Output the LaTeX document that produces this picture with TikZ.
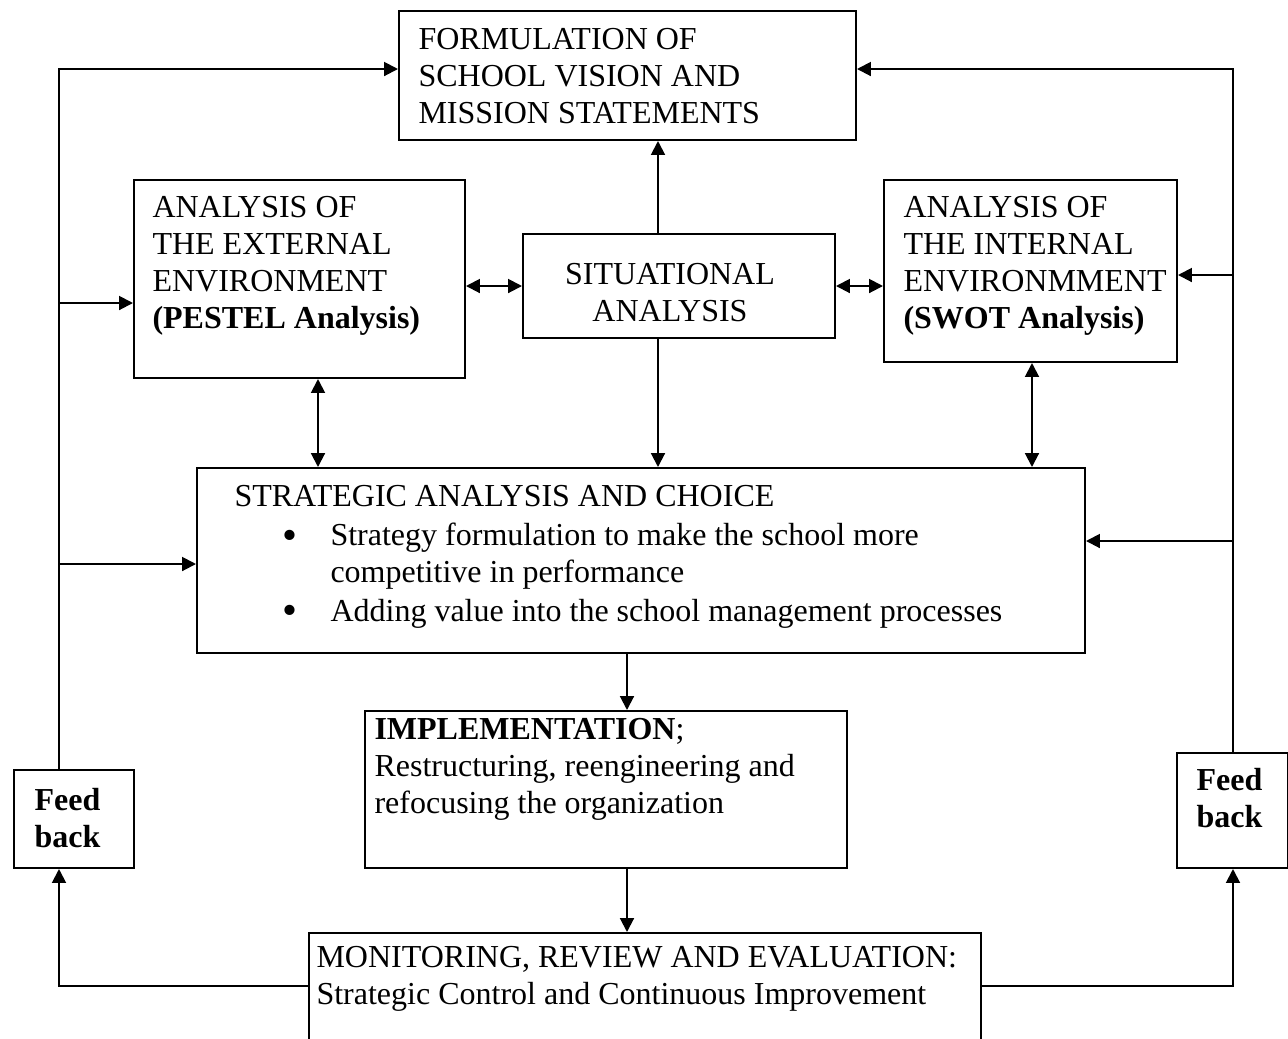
\documentclass[tikz,border=0pt]{standalone}
\usepackage{fontspec}
\setmainfont{Liberation Serif}
\usetikzlibrary{arrows.meta}
\begin{document}
\begin{tikzpicture}[x=0.375pt,y=-0.375pt,
  every node/.style={font=\fontsize{12pt}{13.875pt}\selectfont},
  bx/.style 2 args={draw, line width=0.75pt, rectangle, inner sep=0pt, anchor=north west,
     minimum width=#1*0.375pt, minimum height=#2*0.375pt},
  txt/.style={anchor=base west, inner sep=0pt, align=left},
  bul/.style={anchor=base, inner sep=0pt, font=\fontsize{16pt}{16pt}\selectfont},
  conn/.style={line width=0.75pt},
  arr/.style={conn, -{Triangle[length=5.2pt,width=5.2pt]}},
  dbl/.style={conn, {Triangle[length=5.2pt,width=5.2pt]}-{Triangle[length=5.2pt,width=5.2pt]}}]
\clip (0,0) rectangle (1288,1038);
\fill[white] (0,0) rectangle (1288,1038);
% boxes
\node[bx={457}{129}] (form) at (398,10) {};
\node[bx={331}{198}] (ext) at (133,179) {};
\node[bx={312}{104}] (sit) at (522,233) {};
\node[bx={293}{182}] (int) at (883,179) {};
\node[bx={888}{185}] (strat) at (196,467) {};
\node[bx={482}{157}] (impl) at (364,710) {};
\node[bx={672}{140}] (mon) at (308,932) {};
\node[bx={120}{98}] (fbl) at (13,769) {};
\node[bx={111}{115}] (fbr) at (1176,752) {};
% texts (base anchor = baseline of last line)
\node[txt] (formt) at (418,123) {FORMULATION OF\\SCHOOL VISION AND\\MISSION STATEMENTS};
\node[txt] (extt) at (152,328) {ANALYSIS OF\\THE EXTERNAL\\ENVIRONMENT\\\textbf{(PESTEL Analysis)}};
\node[txt] (intt) at (903,328) {ANALYSIS OF\\THE INTERNAL\\ENVIRONMMENT\\\textbf{(SWOT Analysis)}};
\node[anchor=base, inner sep=0pt, align=center] (sitt) at (670,321) {SITUATIONAL\\ANALYSIS};
\node[txt] (stratt) at (234,506) {STRATEGIC ANALYSIS AND CHOICE};
\node[bul] (b1) at (290,549) {\textbullet};
\node[txt] (b1t) at (330,582) {Strategy formulation to make the school more\\competitive in performance};
\node[bul] (b2) at (290,624) {\textbullet};
\node[txt] (b2t) at (330,621) {Adding value into the school management processes};
\node[txt] (implt) at (374,813) {\textbf{IMPLEMENTATION};\\Restructuring, reengineering and\\refocusing the organization};
\node[txt] (mont) at (316,1004) {MONITORING, REVIEW AND EVALUATION:\\Strategic Control and Continuous Improvement};
\node[txt] (fblt) at (34,847) {\textbf{Feed}\\\textbf{back}};
\node[txt] (fbrt) at (1196,827) {\textbf{Feed}\\\textbf{back}};
% inner connectors
\draw[arr] (sit.north -| 658,0) -- (form.south -| 658,0);
\draw[arr] (sit.south -| 658,0) -- (strat.north -| 658,0);
\draw[dbl] (ext.east |- 0,286) -- (sit.west |- 0,286);
\draw[dbl] (sit.east |- 0,286) -- (int.west |- 0,286);
\draw[dbl] (ext.south -| 318,0) -- (strat.north -| 318,0);
\draw[dbl] (int.south -| 1032,0) -- (strat.north -| 1032,0);
\draw[arr] (strat.south -| 627,0) -- (impl.north -| 627,0);
\draw[arr] (impl.south -| 627,0) -- (mon.north -| 627,0);
% left feedback loop
\coordinate (lA) at (59,303);
\coordinate (lB) at (59,564);
\draw[arr] (fbl.north -| 59,0) |- (form.west |- 0,69);
\draw[arr] (lA) -- (ext.west |- lA);
\draw[arr] (lB) -- (strat.west |- lB);
\draw[arr] (mon.west |- 0,986) -| (fbl.south -| 59,0);
% right feedback loop
\coordinate (rA) at (1233,275);
\coordinate (rB) at (1233,541);
\draw[arr] (fbr.north -| 1233,0) |- (form.east |- 0,69);
\draw[arr] (rA) -- (int.east |- rA);
\draw[arr] (rB) -- (strat.east |- rB);
\draw[arr] (mon.east |- 0,986) -| (fbr.south -| 1233,0);
\end{tikzpicture}
\end{document}
